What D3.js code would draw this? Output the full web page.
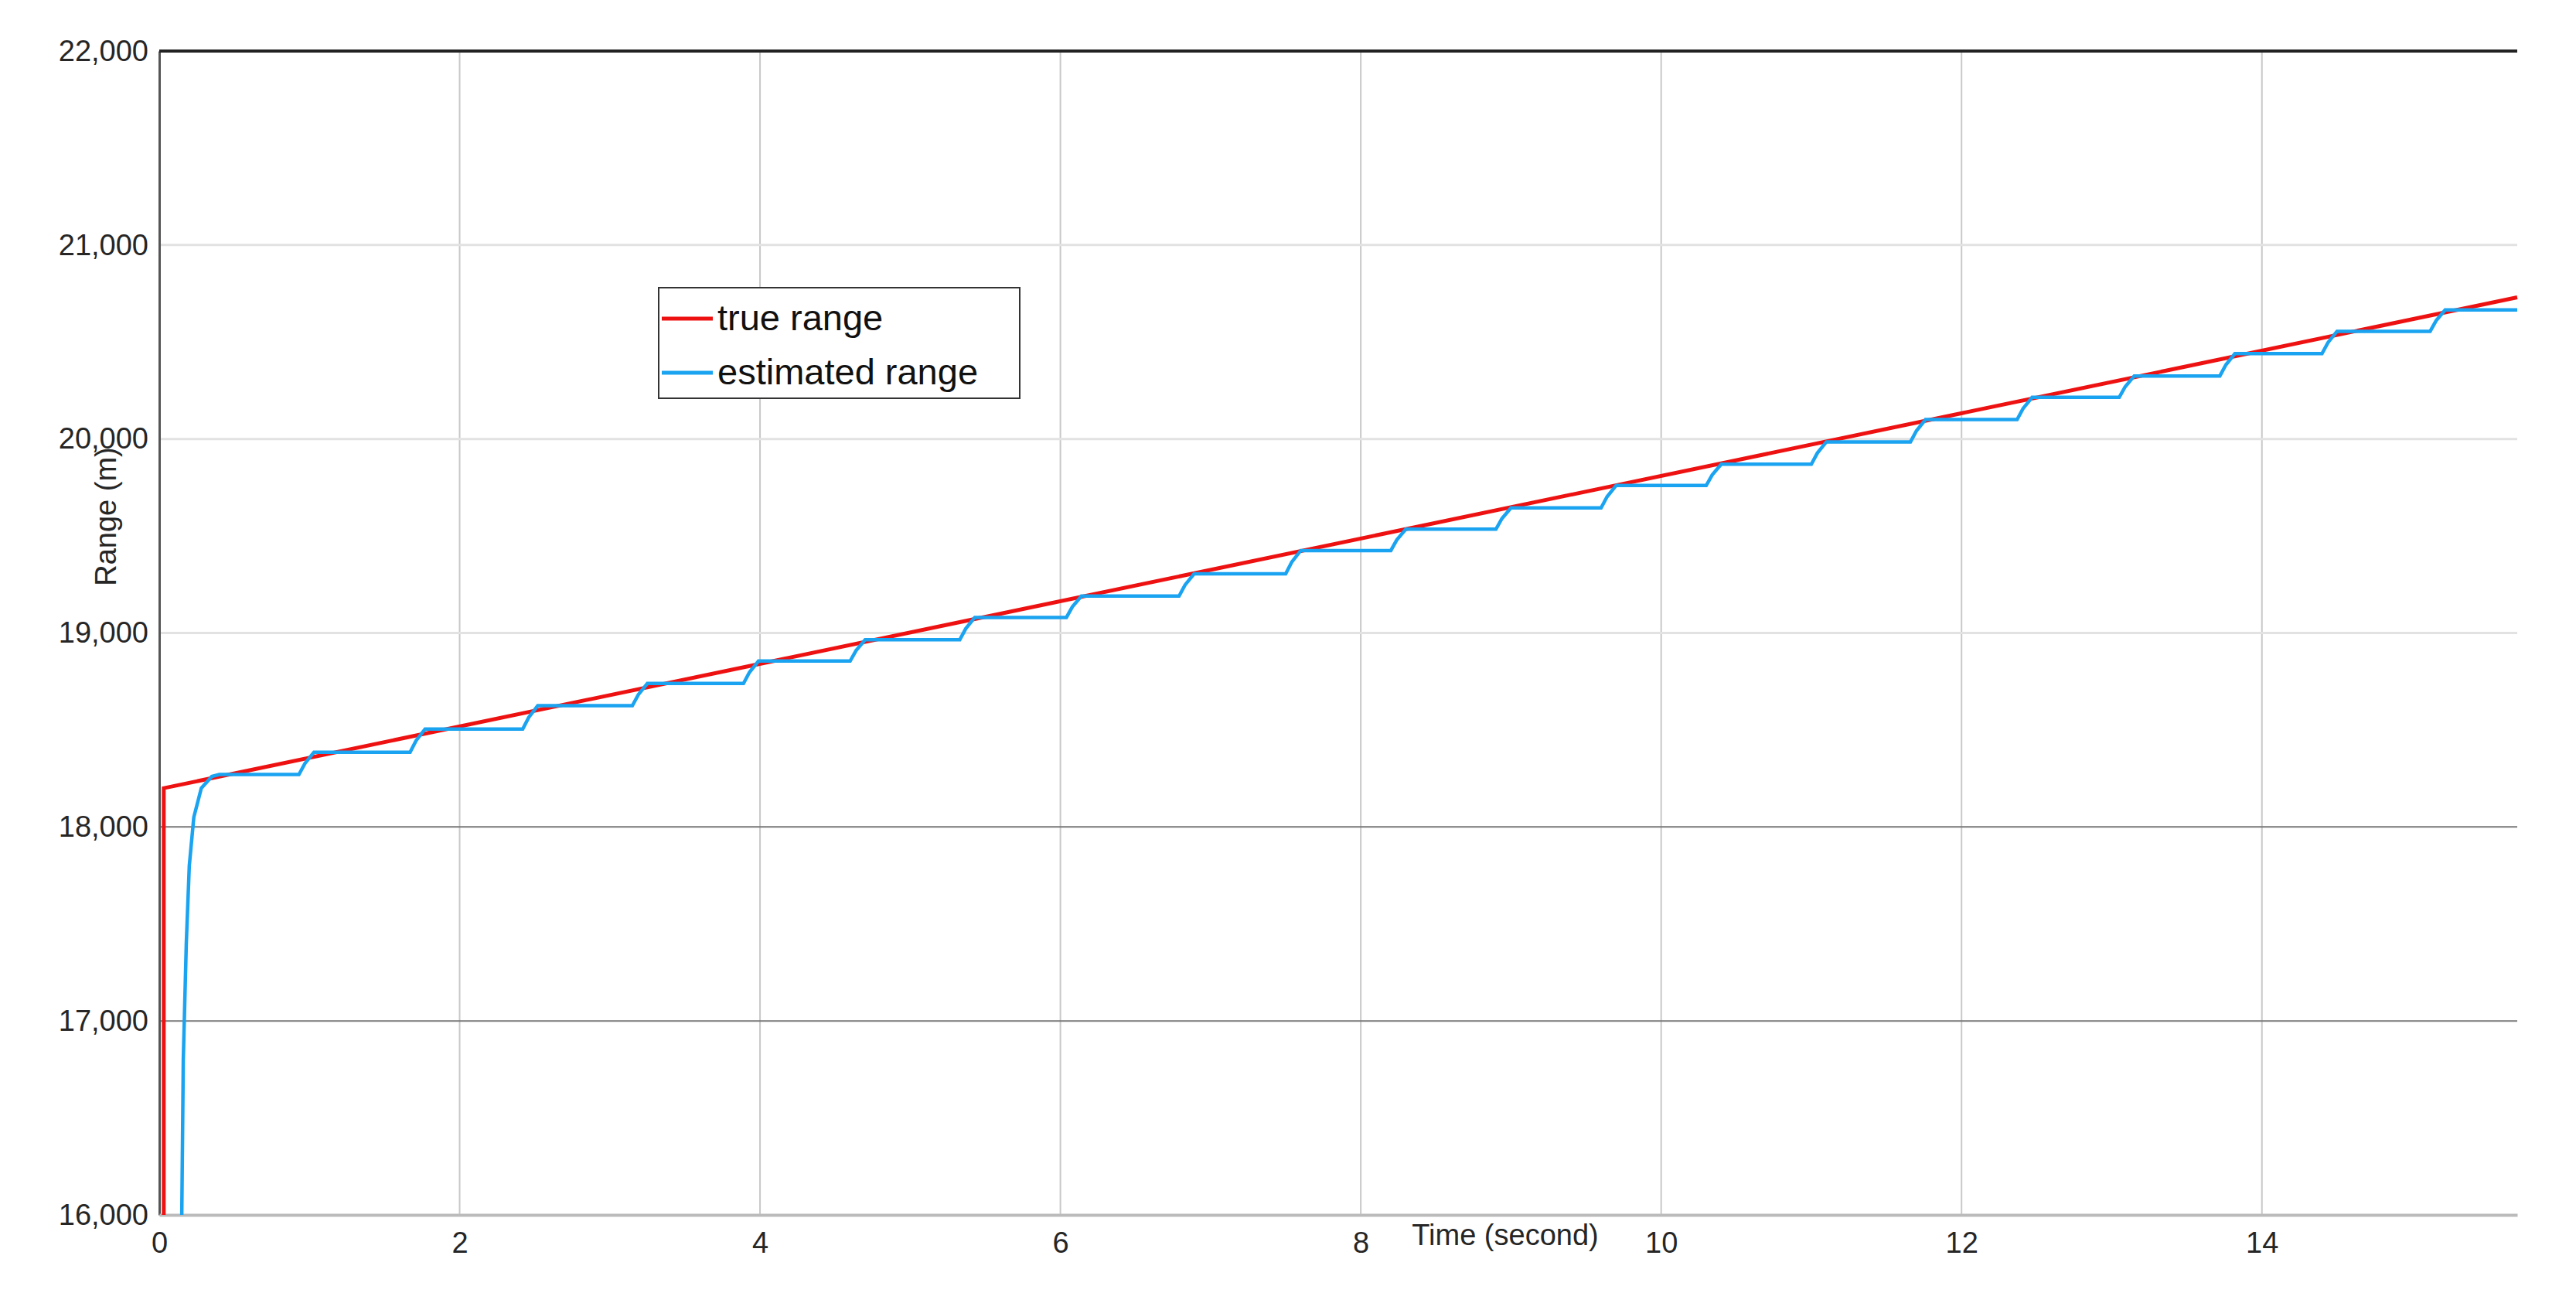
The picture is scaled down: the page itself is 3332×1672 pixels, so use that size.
<!DOCTYPE html>
<html><head><meta charset="utf-8">
<script src="https://cdn.jsdelivr.net/npm/d3@7"></script>
<style>body{margin:0;background:#fff}text{font-family:Arial,"Liberation Sans",sans-serif}</style>
</head><body><svg id="c" width="3332" height="1672"></svg>
<script>
const xTicks=[0,2,4,6,8,10,12,14];
const yTicks=[16000,17000,18000,19000,20000,21000,22000];
const trueT=[0.03,0.03,15.7];
const trueR=[16000,18200,20730];
const initT=[0.15,0.16,0.18,0.2,0.23,0.28,0.35,0.4];
const initR=[16000,16800,17400,17800,18050,18200,18260,18270];
const stepT=[0.93,1.67,2.42,3.15,3.89,4.6,5.33,6.04,6.79,7.5,8.2,8.9,9.6,10.3,11.0,11.66,12.37,13.05,13.72,14.4,15.12];
const stepR=[18385,18505,18625,18740,18855,18965,19080,19190,19305,19425,19535,19645,19760,19870,19985,20100,20215,20325,20440,20555,20665];
const xEnd=15.7;

const svg=d3.select("#c");
const L=206,R=3256,T=66,B=1571;
const x=d3.scaleLinear().domain([0,xEnd]).range([L,R]);
const y=d3.scaleLinear().domain([16000,22000]).range([B,T]);

svg.append("g").selectAll("line").data(xTicks.slice(1)).join("line")
 .attr("x1",d=>x(d)).attr("x2",d=>x(d)).attr("y1",T).attr("y2",B)
 .attr("stroke","#c8c8c8").attr("stroke-width",2);
svg.append("g").selectAll("line").data(yTicks.slice(1,-1)).join("line")
 .attr("x1",L).attr("x2",R).attr("y1",d=>y(d)).attr("y2",d=>y(d))
 .attr("stroke",d=>d>=19000?"#e2e2e2":"#777").attr("stroke-width",d=>d>=19000?3:2);

const ya=svg.append("g").attr("transform",`translate(${L},0)`)
 .call(d3.axisLeft(y).tickValues(yTicks).tickFormat(d3.format(",")).tickSize(0).tickPadding(14));
ya.select(".domain").attr("stroke","#555").attr("stroke-width",3);
ya.selectAll("text").attr("font-size",38).attr("fill","#262626");
const xa=svg.append("g").attr("transform",`translate(0,${B})`)
 .call(d3.axisBottom(x).tickValues(xTicks).tickSize(0).tickPadding(22));
xa.select(".domain").attr("stroke","#bbb").attr("stroke-width",4);
xa.selectAll("text").attr("font-size",38).attr("fill","#262626");
svg.append("line").attr("x1",L).attr("x2",R).attr("y1",T).attr("y2",T).attr("stroke","#222").attr("stroke-width",4);

const line=d3.line().x(d=>x(d[0])).y(d=>y(d[1]));
svg.append("path").datum(trueT.map((t,i)=>[t,trueR[i]])).attr("d",line)
 .attr("fill","none").attr("stroke","#ee1111").attr("stroke-width",5);

const est=initT.map((t,i)=>[t,initR[i]]);
let prev=initR[initR.length-1];
stepT.forEach((t,i)=>{est.push([t,prev]);est.push([t+0.04,(prev+stepR[i])/2]);est.push([t+0.1,stepR[i]]);prev=stepR[i];});
est.push([xEnd,prev]);
svg.append("path").datum(est).attr("d",line)
 .attr("fill","none").attr("stroke","#1aa3f0").attr("stroke-width",4.5);

svg.append("text").attr("transform","translate(150,668) rotate(-90)").attr("text-anchor","middle")
 .attr("font-size",38).attr("fill","#262626").text("Range (m)");
svg.append("text").attr("x",1947).attr("y",1610).attr("text-anchor","middle")
 .attr("font-size",38).attr("fill","#262626").text("Time (second)");

const lg=svg.append("g").attr("transform","translate(852,372)");
lg.append("rect").attr("width",467).attr("height",143).attr("fill","#fff").attr("stroke","#333").attr("stroke-width",2);
[["true range","#ee1111"],["estimated range","#1aa3f0"]].forEach((d,i)=>{
 const yy=40+i*70;
 lg.append("line").attr("x1",4).attr("x2",70).attr("y1",yy).attr("y2",yy).attr("stroke",d[1]).attr("stroke-width",5);
 lg.append("text").attr("x",76).attr("y",yy+15).attr("font-size",47).attr("fill","#111").text(d[0]);
});
</script></body></html>
